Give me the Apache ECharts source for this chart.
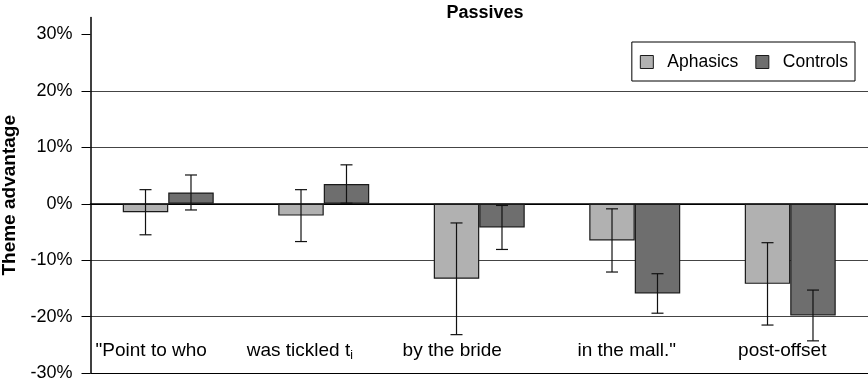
<!DOCTYPE html>
<html><head><meta charset="utf-8">
<script src="https://cdn.jsdelivr.net/npm/echarts@6/dist/echarts.min.js"></script>
<style>html,body{margin:0;padding:0;background:#fff}#c{width:868px;height:386px}</style>
</head><body><div id="c"></div>
<script>
var categories = ['"Point to who', 'was tickled t_i', 'by the bride', 'in the mall."', 'post-offset'];
var aphasics = [-1.5, -2.1, -13.3, -6.5, -14.2];
var aphasicsErr = [4.0, 4.6, 9.9, 5.6, 7.3];
var controls = [2.0, 3.5, -4.2, -15.9, -19.8];
var controlsErr = [3.1, 3.4, 3.9, 3.5, 4.5];
var yTicks = [-30, -20, -10, 0, 10, 20, 30];

var FONT = 'Liberation Sans, Arial, sans-serif';
// horizontal nudge of category labels (px, negative = left)
var labelShift = [-17, -24, -27, -8, -8];

function errSeries(vals, errs, side, name) {
  return {
    type: 'custom', name: name + ' err', z: 5, silent: true,
    data: vals.map(function (v, i) { return [i, v, errs[i]]; }),
    renderItem: function (params, api) {
      var i = api.value(0), m = api.value(1), e = api.value(2);
      var band = api.size([1, 0])[0];
      var off = side * band * 0.585 / 4;
      var hi = api.coord([i, m + e]), lo = api.coord([i, m - e]);
      var x = hi[0] + off, cw = 6;
      var st = { stroke: '#111', lineWidth: 1.2 };
      return { type: 'group', children: [
        { type: 'line', shape: { x1: x, y1: hi[1], x2: x, y2: lo[1] }, style: st },
        { type: 'line', shape: { x1: x - cw, y1: hi[1], x2: x + cw, y2: hi[1] }, style: st },
        { type: 'line', shape: { x1: x - cw, y1: lo[1], x2: x + cw, y2: lo[1] }, style: st }
      ]};
    }
  };
}

var rich = {};
labelShift.forEach(function (s, i) {
  var pr = Math.max(0, -2 * s), pl = Math.max(0, 2 * s);
  var hasSub = categories[i].indexOf('_') >= 0;
  rich['c' + i] = { fontSize: 19, fontFamily: FONT, color: '#000', lineHeight: 22,
    padding: [0, hasSub ? 0 : pr, 0, pl] };
  rich['sub' + i] = { fontSize: 12, fontFamily: FONT, color: '#000', lineHeight: 22,
    verticalAlign: 'bottom', padding: [10, pr, 0, 0] };
});

var chart = echarts.init(document.getElementById('c'));
chart.setOption({
  animation: false,
  textStyle: { fontFamily: FONT },
  title: { text: 'Passives', left: 480, textAlign: 'center', top: -1,
    textStyle: { fontFamily: FONT, fontSize: 18, fontWeight: 'bold', color: '#000' } },
  legend: {
    data: ['Aphasics', 'Controls'], right: 13, top: 42, icon: 'rect',
    borderColor: '#000', borderWidth: 1, padding: [11, 7, 10, 8],
    itemWidth: 13, itemHeight: 13, itemGap: 17,
    itemStyle: { borderColor: '#1a1a1a', borderWidth: 1 },
    textStyle: { fontFamily: FONT, fontSize: 17.5, color: '#000', padding: [0, 0, 0, 9] }
  },
  grid: { left: 90.5, right: 0, top: 17.6, bottom: 13, containLabel: false, outerBoundsMode: 'none' },
  xAxis: {
    type: 'category', data: categories,
    axisLine: { show: true, lineStyle: { color: '#000', width: 1.5 } },
    axisTick: { show: false },
    axisLabel: {
      margin: -22, verticalAlign: 'middle', color: '#000', fontFamily: FONT, interval: 0,
      formatter: function (v, i) {
        var parts = v.split('_');
        var s = '{c' + i + '|' + parts[0] + '}';
        if (parts[1]) s += '{sub' + i + '|' + parts[1] + '}';
        return s;
      },
      rich: rich
    }
  },
  yAxis: {
    type: 'value', min: -30, max: 33, interval: 10,
    name: 'Theme advantage', nameLocation: 'middle', nameGap: 64, nameRotate: 90,
    nameTextStyle: { fontFamily: FONT, fontSize: 19, fontWeight: 'bold', color: '#000' },
    axisLine: { show: true, lineStyle: { color: '#000', width: 1.5 } },
    axisTick: { show: true, inside: false, length: 9, lineStyle: { color: '#000' }, customValues: yTicks },
    axisLabel: { margin: 18, fontSize: 18, color: '#000', fontFamily: FONT, customValues: yTicks,
      formatter: function (v) { return v + '%'; } },
    splitLine: { show: true, showMaxLine: false,
      lineStyle: { color: ['#000', '#444', '#444', '#000', '#444', '#444', '#222', 'transparent'], width: 1.2 } }
  },
  series: [
    { name: 'Aphasics', type: 'bar', data: aphasics, barGap: '0%', barCategoryGap: '41.5%',
      itemStyle: { color: '#b1b1b1', borderColor: '#1a1a1a', borderWidth: 1.2 } },
    { name: 'Controls', type: 'bar', data: controls, barGap: '0%', barCategoryGap: '41.5%',
      itemStyle: { color: '#6e6e6e', borderColor: '#1a1a1a', borderWidth: 1.2 } },
    errSeries(aphasics, aphasicsErr, -1, 'Aphasics'),
    errSeries(controls, controlsErr, 1, 'Controls')
  ]
});
</script></body></html>
